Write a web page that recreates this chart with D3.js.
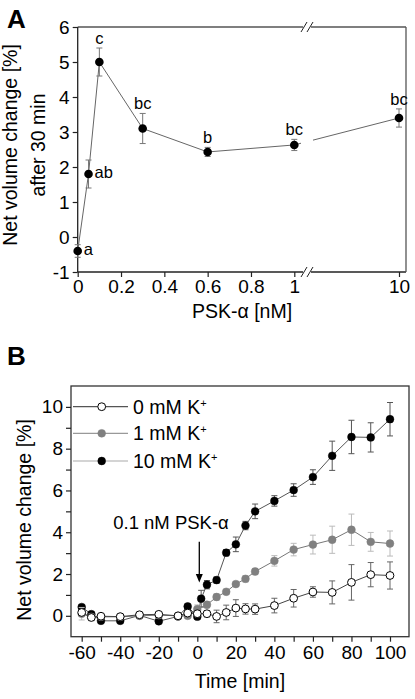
<!DOCTYPE html>
<html><head><meta charset="utf-8">
<script src="https://cdn.jsdelivr.net/npm/d3@7"></script>
<style>
html,body{margin:0;padding:0;background:#fff;}
svg{display:block;font-family:"Liberation Sans",Arial,Helvetica,sans-serif;}
</style></head>
<body>
<svg id="c" width="415" height="699"></svg>
<script>
// ---------- Panel A data ----------
const concA = [0, 0.05, 0.1, 0.3, 0.6, 1, 10];
const valA = [-0.4, 1.8, 5.0, 3.1, 2.43, 2.63, 3.4];
const errA = [0.18, 0.4, 0.4, 0.43, 0.13, 0.16, 0.26];
const lettersA = ["a", "ab", "c", "bc", "b", "bc", "bc"];
const xTicksA = [0, 0.2, 0.4, 0.6, 0.8, 1, 10];
const yTicksA = [-1, 0, 1, 2, 3, 4, 5, 6];

// ---------- Panel B data ----------
const timeB10 = [-60,-55,-50,-40,-30,-20,-10,-5,0,2,5,10,15,20,25,30,40,50,60,70,80,90,100];
const val10 = [0.42,0.08,-0.24,-0.24,0.02,-0.26,-0.03,0.45,-0.04,0.82,1.49,1.71,3.02,3.42,4.32,5.0,5.5,6.02,6.64,7.66,8.56,8.54,9.41];
const err10 = [0.1,0.1,0.08,0.08,0.08,0.08,0.05,0.1,0.1,0.4,0.2,0.15,0.15,0.35,0.2,0.35,0.25,0.3,0.35,0.7,0.8,0.7,0.8];

const timeB = [-60,-55,-50,-40,-30,-20,-10,-5,0,5,10,15,20,25,30,40,50,60,70,80,90,100];
const val1 = [0.1,-0.05,-0.05,-0.05,0.0,0.03,0.0,0.0,0.32,0.53,0.9,1.15,1.52,1.77,2.12,2.63,3.17,3.41,3.64,4.12,3.54,3.46];
const err1 = [0.3,0.12,0.1,0.08,0.08,0.08,0.06,0.1,0.2,0.15,0.15,0.12,0.12,0.15,0.15,0.25,0.3,0.45,0.65,0.75,0.45,0.6];
const val0 = [0.16,-0.08,-0.02,-0.04,0.05,0.07,0.0,0.13,0.1,0.1,-0.03,0.16,0.37,0.33,0.32,0.49,0.84,1.14,1.12,1.6,1.97,1.93];
const err0 = [0.1,0.15,0.08,0.08,0.08,0.1,0.05,0.12,0.1,0.15,0.3,0.35,0.4,0.25,0.25,0.35,0.42,0.25,0.55,0.85,0.58,0.65];

const legendLabels = ["0 mM K", "1 mM K", "10 mM K"];
const xTicksB = d3.range(-60, 101, 10);
const yTicksB = d3.range(0, 11, 1);

const svg = d3.select("#c");
const FONT = 19;

// ================= PANEL A =================
const A = {l:77.7, r:406, t:27, b:272};
const xA = d3.scaleLinear().domain([0, 1, 10]).range([77.7, 294.3, 399]);
const yA = d3.scaleLinear().domain([-1, 6]).range([A.b, A.t]);
const breakX = 307;

const gA = svg.append("g");
const frameCol = "#222";
function hline(y, x1, x2, col){ gA.append("line").attr("x1",x1).attr("x2",x2).attr("y1",y).attr("y2",y).attr("stroke",col).attr("stroke-width",1.3); }
hline(A.b, A.l, breakX-4, frameCol); hline(A.b, breakX+4, A.r, frameCol);
hline(A.t, A.l, breakX-4, "#555"); hline(A.t, breakX+4, A.r, "#555");
gA.append("line").attr("x1",A.l).attr("x2",A.l).attr("y1",A.t).attr("y2",A.b).attr("stroke",frameCol).attr("stroke-width",1.3);
gA.append("line").attr("x1",A.r).attr("x2",A.r).attr("y1",A.t).attr("y2",A.b).attr("stroke","#555").attr("stroke-width",1.3);
[A.t, A.b].forEach(y=>{
  [-3, 3].forEach(dx=>{
    gA.append("line").attr("x1",breakX+dx-3).attr("x2",breakX+dx+3).attr("y1",y+5).attr("y2",y-5)
      .attr("stroke","#222").attr("stroke-width",1);
  });
});

const axA_x = gA.append("g").attr("transform",`translate(0,${A.b})`)
  .call(d3.axisBottom(xA).tickValues(xTicksA).tickFormat(d=>String(d)).tickSize(5).tickSizeOuter(0).tickPadding(3));
const axA_y = gA.append("g").attr("transform",`translate(${A.l},0)`)
  .call(d3.axisLeft(yA).tickValues(yTicksA).tickFormat(d=>String(d)).tickSize(5).tickSizeOuter(0).tickPadding(3));
[axA_x, axA_y].forEach(ax=>{
  ax.select(".domain").remove();
  ax.selectAll("text").attr("font-size",FONT).attr("fill","#000").attr("font-family","Liberation Sans, Arial, sans-serif");
  ax.selectAll("line").attr("stroke","#222").attr("stroke-width",1.2);
});

const ptsA = concA.map((c,i)=>[xA(c), yA(valA[i])]);
const lineCol = "#666";
for (let i=0;i<ptsA.length-1;i++){
  const p=ptsA[i], q=ptsA[i+1];
  if (p[0] < breakX && q[0] > breakX){
    const f=(x)=>p[1]+(q[1]-p[1])*(x-p[0])/(q[0]-p[0]);
    gA.append("line").attr("x1",p[0]).attr("y1",p[1]).attr("x2",breakX-6).attr("y2",f(breakX-6)).attr("stroke",lineCol).attr("stroke-width",1);
    gA.append("line").attr("x1",breakX+6).attr("y1",f(breakX+6)).attr("x2",q[0]).attr("y2",q[1]).attr("stroke",lineCol).attr("stroke-width",1);
  } else {
    gA.append("line").attr("x1",p[0]).attr("y1",p[1]).attr("x2",q[0]).attr("y2",q[1]).attr("stroke",lineCol).attr("stroke-width",1);
  }
}
concA.forEach((c,i)=>{
  const x=xA(c), y1=yA(valA[i]-errA[i]), y2=yA(valA[i]+errA[i]);
  gA.append("line").attr("x1",x).attr("x2",x).attr("y1",y1).attr("y2",y2).attr("stroke","#777").attr("stroke-width",1);
  [y1,y2].forEach(y=>gA.append("line").attr("x1",x-3).attr("x2",x+3).attr("y1",y).attr("y2",y).attr("stroke","#777").attr("stroke-width",1));
});
gA.selectAll("circle.a").data(concA).enter().append("circle")
  .attr("cx",d=>xA(d)).attr("cy",(d,i)=>yA(valA[i])).attr("r",4.3).attr("fill","#000");
concA.forEach((c,i)=>{
  const t=gA.append("text").text(lettersA[i]).attr("font-size",16.5).attr("fill","#000");
  if (i<2){
    t.attr("x",xA(c)+6).attr("y",yA(valA[i])+4).attr("text-anchor","start");
  } else {
    t.attr("x",xA(c)).attr("y",yA(valA[i]+errA[i])-4).attr("text-anchor","middle");
  }
});
gA.append("text").text("PSK-\u03b1 [nM]").attr("x",242).attr("y",318).attr("text-anchor","middle").attr("font-size",19.5);
gA.append("text").text("Net volume change [%]").attr("transform","translate(17,145) rotate(-90)").attr("text-anchor","middle").attr("font-size",19.5);
gA.append("text").text("after 30 min").attr("transform","translate(45,145) rotate(-90)").attr("text-anchor","middle").attr("font-size",19.5);
svg.append("text").text("A").attr("x",7).attr("y",28).attr("font-size",26).attr("font-weight","bold");

// ================= PANEL B =================
const B = {l:71, r:409, t:386, b:636.7};
const xB = d3.scaleLinear().domain([-60, 100]).range([81.7, 390]);
const yB = d3.scaleLinear().domain([-1, 11]).range([B.b, B.t]);
const gB = svg.append("g");
gB.append("rect").attr("x",B.l).attr("y",B.t).attr("width",B.r-B.l).attr("height",B.b-B.t)
  .attr("fill","none").attr("stroke","#333").attr("stroke-width",1.3);
const axB_x = gB.append("g").attr("transform",`translate(0,${B.b})`)
  .call(d3.axisBottom(xB).tickValues(xTicksB).tickFormat(d=>d%20===0?String(d):"").tickSize(5).tickSizeOuter(0).tickPadding(4));
const axB_y = gB.append("g").attr("transform",`translate(${B.l},0)`)
  .call(d3.axisLeft(yB).tickValues(yTicksB).tickFormat(d=>d%2===0?String(d):"").tickSize(5).tickSizeOuter(0).tickPadding(3));
[axB_x, axB_y].forEach(ax=>{
  ax.select(".domain").remove();
  ax.selectAll("text").attr("font-size",FONT).attr("fill","#000").attr("font-family","Liberation Sans, Arial, sans-serif");
  ax.selectAll("line").attr("stroke","#222").attr("stroke-width",1.2);
});

const series = [
  {t:timeB10, v:val10, e:err10, fill:"#000", stroke:"#000", line:"#555", err:"#555", leg:"#aaa"},
  {t:timeB, v:val1, e:err1, fill:"#808080", stroke:"#808080", line:"#777", err:"#bbb", leg:"#999"},
  {t:timeB, v:val0, e:err0, fill:"#fff", stroke:"#000", line:"#444", err:"#666", leg:"#555"}
];
const lineGen = d3.line().x(d=>xB(d[0])).y(d=>yB(d[1]));
series.forEach(s=>{
  const g=gB.append("g");
  s.t.forEach((t,i)=>{
    const x=xB(t), y1=yB(s.v[i]-s.e[i]), y2=yB(s.v[i]+s.e[i]);
    g.append("line").attr("x1",x).attr("x2",x).attr("y1",y1).attr("y2",y2).attr("stroke",s.err).attr("stroke-width",1);
    [y1,y2].forEach(y=>g.append("line").attr("x1",x-3).attr("x2",x+3).attr("y1",y).attr("y2",y).attr("stroke",s.err).attr("stroke-width",1));
  });
  g.append("path").datum(s.t.map((t,i)=>[t,s.v[i]])).attr("d",lineGen).attr("fill","none").attr("stroke",s.line).attr("stroke-width",1);
  g.selectAll("circle").data(s.t).enter().append("circle")
    .attr("cx",d=>xB(d)).attr("cy",(d,i)=>yB(s.v[i])).attr("r",3.9)
    .attr("fill",s.fill).attr("stroke",s.stroke).attr("stroke-width",s.fill==="#fff"?1:0.5);
});

const legOrder = [series[2], series[1], series[0]];
const legY = [406.7, 433.3, 461];
legOrder.forEach((s,i)=>{
  const y=legY[i];
  gB.append("line").attr("x1",73).attr("x2",128).attr("y1",y).attr("y2",y).attr("stroke",s.leg).attr("stroke-width",1.2);
  gB.append("circle").attr("cx",101.7).attr("cy",y).attr("r",3.9).attr("fill",s.fill).attr("stroke",s.stroke).attr("stroke-width",s.fill==="#fff"?1:0.5);
  const t=gB.append("text").attr("x",133).attr("y",y+7).attr("font-size",19.5);
  t.append("tspan").text(legendLabels[i]);
  t.append("tspan").text("+").attr("font-size",11).attr("dy",-7);
});

gB.append("text").text("0.1 nM PSK-\u03b1").attr("x",171).attr("y",529).attr("text-anchor","middle").attr("font-size",18.5);
gB.append("line").attr("x1",199.3).attr("x2",199.3).attr("y1",541.7).attr("y2",576).attr("stroke","#000").attr("stroke-width",1.3);
gB.append("path").attr("d","M195.8,574 L202.8,574 L199.3,582.5 Z").attr("fill","#000");

gB.append("text").text("Time [min]").attr("x",240).attr("y",688).attr("text-anchor","middle").attr("font-size",19.5);
gB.append("text").text("Net volume change [%]").attr("transform","translate(31,520) rotate(-90)").attr("text-anchor","middle").attr("font-size",19.5);
svg.append("text").text("B").attr("x",7).attr("y",365).attr("font-size",26).attr("font-weight","bold");
</script>
</body></html>
